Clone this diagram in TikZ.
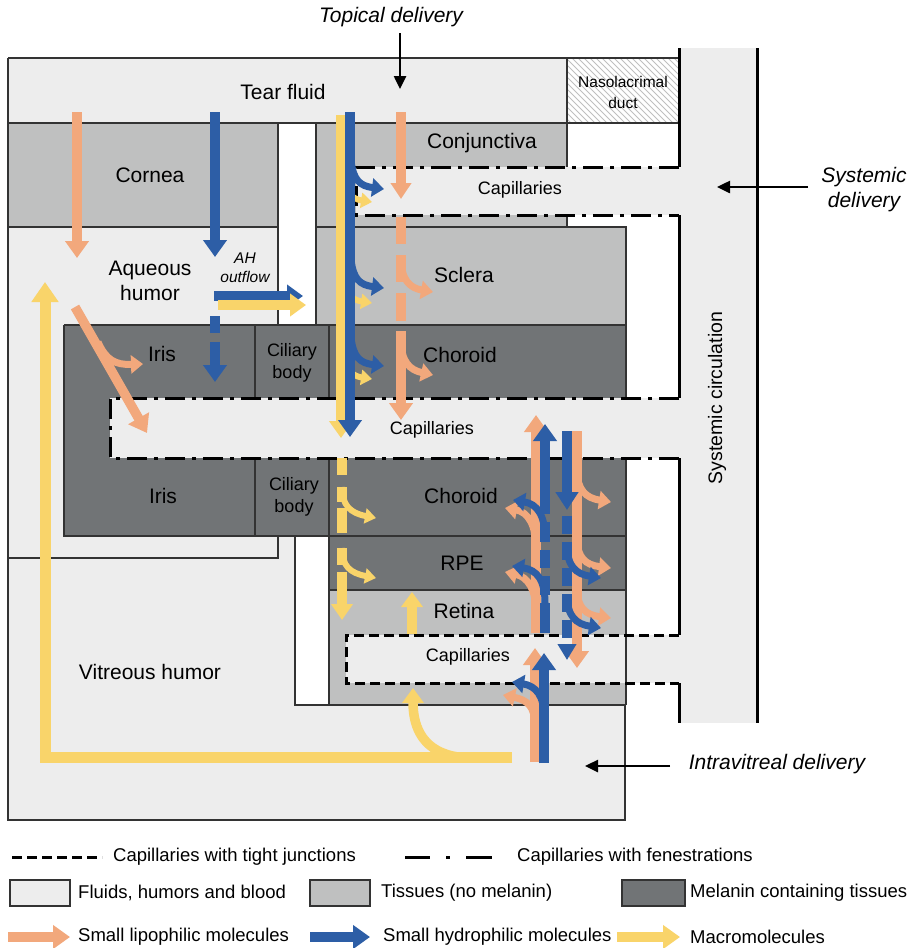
\documentclass[tikz,border=0pt]{standalone}
\usepackage{fontspec}
\setmainfont{Liberation Sans}
\usetikzlibrary{arrows.meta}
\definecolor{fluidc}{HTML}{EDEDED}
\definecolor{tissuec}{HTML}{BFC0C0}
\definecolor{melc}{HTML}{717476}
\definecolor{orgc}{HTML}{F2A87C}
\definecolor{bluc}{HTML}{2D5EA6}
\definecolor{yelc}{HTML}{F9D46A}
\definecolor{outc}{HTML}{333333}
\tikzset{
  outl/.style={draw=outc, line width=1.3pt},
  fen/.style={draw=black, line width=3pt, dash pattern=on 20pt off 7pt on 4pt off 7pt},
  tight/.style={draw=black, line width=3pt, dash pattern=on 10pt off 5pt},
  sysl/.style={draw=black, line width=3pt},
  big/.style={line width=9.5pt, -{Triangle[width=23pt,length=17pt]}},
  br/.style={line width=7pt, -{Triangle[width=18pt,length=12pt]}},
  ybr/.style={line width=6pt, -{Triangle[width=15pt,length=11pt]}},
  blk/.style={draw=black, line width=2.5pt, -{Triangle[width=12pt,length=13pt]}},
  lab/.style={inner sep=0pt, align=center, font=\fontsize{21}{25}\selectfont},
  capl/.style={inner sep=0pt, font=\fontsize{18}{21}\selectfont},
  sml/.style={inner sep=0pt, align=center, font=\fontsize{15.5}{19}\selectfont},
  leg/.style={inner sep=0pt, anchor=west, font=\fontsize{18.5}{21}\selectfont},
  lbox/.style={draw=outc, line width=1.2pt}
}
\begin{document}
\begin{tikzpicture}[x=1pt,y=-1pt]
\useasboundingbox (0,0) rectangle (913,948);
\fill[white] (0,0) rectangle (913,948);
% ---------- fills ----------
\fill[fluidc] (8,58) rectangle (678,123);
\fill[fluidc] (8,123) rectangle (625,820);
\fill[white] (278,123) rectangle (316,325);
\fill[white] (567,123) rectangle (678,227);
% nasolacrimal duct hatching
\fill[white] (567,58) rectangle (678,123);
\begin{scope}
  \clip (567,58) rectangle (678,123);
  \foreach \i in {0,6,...,200} {\draw[black!25, line width=0.8pt] (500+\i,58) -- (565+\i,123);}
\end{scope}
% tissues
\fill[tissuec] (8,123) rectangle (278,227);
\fill[tissuec] (316,123) rectangle (567,227);
\fill[tissuec] (316,227) rectangle (626,325);
\fill[tissuec] (329,590) rectangle (626,705);
% melanin
\fill[melc] (64,325) rectangle (626,398);
\fill[melc] (64,398) rectangle (110,458);
\fill[melc] (64,458) rectangle (626,536);
\fill[melc] (329,536) rectangle (626,590);
\fill[white] (295,536) rectangle (329,705);
% capillaries
\fill[fluidc] (356,167) rectangle (679,215);
\fill[fluidc] (110,398) rectangle (679,458);
\fill[fluidc] (346,635) rectangle (679,683);
% systemic band
\fill[fluidc] (679,48) rectangle (757,723);
% ---------- outlines ----------
\draw[outl] (8,58) -- (679,58);
\draw[outl] (8,58) -- (8,820) -- (625,820) -- (625,705);
\draw[outl] (8,123) -- (679,123);
\draw[outl] (567,58) -- (567,167);
\draw[outl] (567,215) -- (567,227);
\draw[outl] (8,227) -- (278,227);
\draw[outl] (278,123) -- (278,325);
\draw[outl] (316,123) -- (316,325);
\draw[outl] (316,227) -- (626,227) -- (626,398);
\draw[outl] (64,325) -- (626,325);
\draw[outl] (64,325) -- (64,536) -- (626,536);
\draw[outl] (255,325) -- (255,398);
\draw[outl] (329,325) -- (329,398);
\draw[outl] (255,458) -- (255,536);
\draw[outl] (329,458) -- (329,705);
\draw[outl] (626,458) -- (626,705);
\draw[outl] (329,590) -- (626,590);
\draw[outl] (295,536) -- (295,705) -- (626,705);
\draw[outl] (8,558) -- (278,558) -- (278,536);
% capillary borders
\draw[fen] (679,167) -- (356,167) -- (356,215) -- (679,215);
\draw[fen] (679,398) -- (110,398) -- (110,458) -- (679,458);
\draw[tight] (679,635) -- (346,635) -- (346,683) -- (679,683);
% systemic lines
\draw[sysl] (679.5,48) -- (679.5,167);
\draw[sysl] (679.5,215) -- (679.5,398);
\draw[sysl] (679.5,458) -- (679.5,635);
\draw[sysl] (679.5,683) -- (679.5,723);
\draw[sysl] (757,48) -- (757,723);
% ---------- labels ----------
\node[lab] (tear) at (283,92) {Tear fluid};
\node[lab] (cornea) at (150,175) {Cornea};
\node[lab] (conj) at (482,143) {Conjunctiva};
\node[sml, font=\fontsize{15.5}{21}\selectfont] (naso) at (623,92) {Nasolacrimal\\duct};
\node[capl] (cap1) at (520,190) {Capillaries};
\node[capl] (cap2) at (432,430) {Capillaries};
\node[capl] (cap3) at (468,657) {Capillaries};
\node[lab] (aq) at (150,281) {Aqueous\\humor};
\node[sml, font=\itshape\fontsize{15.5}{19}\selectfont] (ah) at (245,268) {AH\\outflow};
\node[lab] (sclera) at (464,275) {Sclera};
\node[lab] (iris1) at (162,354) {Iris};
\node[sml, font=\fontsize{18}{22}\selectfont] (cil1) at (292,363) {Ciliary\\body};
\node[lab] (chor1) at (460,355) {Choroid};
\node[lab] (iris2) at (163,496) {Iris};
\node[sml, font=\fontsize{18}{22}\selectfont] (cil2) at (294,497) {Ciliary\\body};
\node[lab] (chor2) at (461,496) {Choroid};
\node[lab] (rpe) at (462,563) {RPE};
\node[lab] (retina) at (464,611) {Retina};
\node[lab] (vit) at (150,672) {Vitreous humor};
\node[inner sep=0pt, rotate=90, font=\fontsize{19.5}{22}\selectfont] (syscirc) at (717,398) {Systemic circulation};
\node[lab, font=\itshape\fontsize{21}{25}\selectfont] (topd) at (391,17) {Topical delivery};
\node[lab, font=\itshape\fontsize{21}{25}\selectfont] (sysd) at (864,190) {Systemic\\delivery};
\node[lab, font=\itshape\fontsize{21}{25}\selectfont] (ivd) at (777,764) {Intravitreal delivery};
% delivery arrows
\coordinate (t0) at (400,33); \coordinate (t1) at (400,89);
\draw[blk] (t0) -- (t1);
\coordinate (s0) at (808,187); \coordinate (s1) at (717,187);
\draw[blk] (s0) -- (s1);
\coordinate (i0) at (670,766); \coordinate (i1) at (585,766);
\draw[blk] (i0) -- (i1);
% ---------- left section arrows ----------
\draw[big, orgc] (77,112) -- (77,258);
\draw[big, bluc] (215,112) -- (215,257);
\draw[big, bluc, -{Triangle[width=22pt,length=16pt]}] (214,296) -- (303,296);
\draw[big, yelc, -{Triangle[width=22pt,length=16pt]}] (218,305) -- (306,305);
\draw[big, bluc, dash pattern=on 17pt off 9pt on 80pt] (215,316) -- (215,382);
\draw[big, orgc] (75,307) -- (147,433);
\draw[br, orgc] (98,342) .. controls (106,360) and (115,365) .. (143,364);
% big yellow from vitreous to aqueous
\draw[line width=11pt, yelc, -{Triangle[width=26pt,length=20pt]}] (512,757) -- (45,757) -- (45,282);
\draw[big, yelc, -{Triangle[width=21pt,length=15pt]}] (458,757) .. controls (425,752) and (413,730) .. (413,688);
% ---------- middle column ----------
\draw[ybr, yelc] (343,175) .. controls (345,192) and (352,199) .. (372,202);
\draw[ybr, yelc] (343,276) .. controls (345,293) and (352,300) .. (372,303);
\draw[ybr, yelc] (343,352) .. controls (345,369) and (352,376) .. (372,379);
\draw[big, yelc] (341,115) -- (341,438);
\draw[big, bluc] (350,112) -- (350,437);
\draw[br, bluc] (351,160) .. controls (353,180) and (360,186) .. (384,189);
\draw[br, bluc] (351,259) .. controls (353,279) and (360,285) .. (384,288);
\draw[br, bluc] (351,337) .. controls (353,357) and (360,363) .. (384,366);
\draw[big, orgc, -{Triangle[width=20pt,length=16pt]}] (401,112) -- (401,199);
\draw[big, orgc, dash pattern=on 27pt off 11pt on 27pt off 11pt on 28pt off 10pt on 200pt] (401,217) -- (401,420);
\draw[br, orgc] (401,258) .. controls (401,280) and (410,288) .. (433,292);
\draw[br, orgc] (401,340) .. controls (401,362) and (410,370) .. (433,375);
% yellow below mid capillaries
\draw[big, yelc, -{Triangle[width=21pt,length=16pt]}, dash pattern=on 17pt off 12pt on 15pt off 6pt on 25pt off 15pt on 17pt off 7pt on 80pt] (342,458) -- (342,620);
\draw[ybr, yelc] (342,487) .. controls (342,505) and (350,513) .. (376,518);
\draw[ybr, yelc] (342,548) .. controls (342,566) and (350,573) .. (376,578);
\draw[big, yelc, -{Triangle[width=21pt,length=15pt]}] (412,634) -- (412,592);
% ---------- right column: up ----------
\draw[big, orgc] (535,762) -- (535,648);
\draw[br, orgc] (535,726) .. controls (535,706) and (527,700) .. (503,695);
\draw[big, bluc] (544,763) -- (544,653);
\draw[br, bluc] (544,716) .. controls (544,696) and (536,686) .. (512,682);
\draw[big, orgc] (536,633) -- (536,415);
\draw[br, orgc] (536,548) .. controls (536,525) and (528,512) .. (505,508);
\draw[br, orgc] (536,612) .. controls (536,590) and (528,577) .. (505,572);
\draw[big, bluc, dash pattern=on 30pt off 8pt on 19pt off 8pt on 18pt off 8pt on 20pt off 8pt on 200pt] (545,633) -- (545,424);
\draw[br, bluc] (545,538) .. controls (545,515) and (537,504) .. (513,500);
\draw[br, bluc] (545,603) .. controls (545,580) and (537,570) .. (512,566);
% ---------- right column: down ----------
\draw[big, orgc] (577,431) -- (577,668);
\draw[br, orgc] (577,470) .. controls (577,490) and (586,498) .. (611,502);
\draw[br, orgc] (577,538) .. controls (577,558) and (586,565) .. (611,568);
\draw[br, orgc] (577,588) .. controls (577,608) and (586,615) .. (611,618);
\draw[big, bluc, -{Triangle[width=22pt,length=18pt]}] (567,431) -- (567,510);
\draw[big, bluc, -{Triangle[width=18pt,length=16pt]}, dash pattern=on 18pt off 8pt] (567,516) -- (567,660);
\draw[br, bluc] (567,545) .. controls (567,566) and (576,574) .. (601,578);
\draw[br, bluc] (567,595) .. controls (567,616) and (576,624) .. (601,628);
% ---------- legend ----------
\coordinate (la0) at (12,857); \coordinate (la1) at (102,857);
\draw[tight] (la0) -- (la1);
\node[leg] (lt1) at (113,857) {Capillaries with tight junctions};
\coordinate (lb0) at (405,857); \coordinate (lb1) at (492,857);
\draw[draw=black, line width=3pt, dash pattern=on 25pt off 16pt on 4pt off 16pt on 30pt] (lb0) -- (lb1);
\node[leg] (lt2) at (517,857) {Capillaries with fenestrations};
\draw[lbox, fill=fluidc] (10,880) rectangle (70,906);
\node[leg] (lt3) at (78,893) {Fluids, humors and blood};
\draw[lbox, fill=tissuec] (310,880) rectangle (370,906);
\node[leg] (lt4) at (381,893) {Tissues (no melanin)};
\draw[lbox, fill=melc] (622,880) rectangle (685,906);
\node[leg] (lt5) at (690,893) {Melanin containing tissues};
\coordinate (lo0) at (8,937); \coordinate (lo1) at (70,937);
\draw[big, orgc] (lo0) -- (lo1);
\node[leg] (lt6) at (78,937) {Small lipophilic molecules};
\coordinate (lu0) at (310,937); \coordinate (lu1) at (370,937);
\draw[big, bluc] (lu0) -- (lu1);
\node[leg] (lt7) at (383,937) {Small hydrophilic molecules};
\coordinate (ly0) at (617,937); \coordinate (ly1) at (680,937);
\draw[big, yelc] (ly0) -- (ly1);
\node[leg] (lt8) at (690,937) {Macromolecules};
\end{tikzpicture}
\end{document}
